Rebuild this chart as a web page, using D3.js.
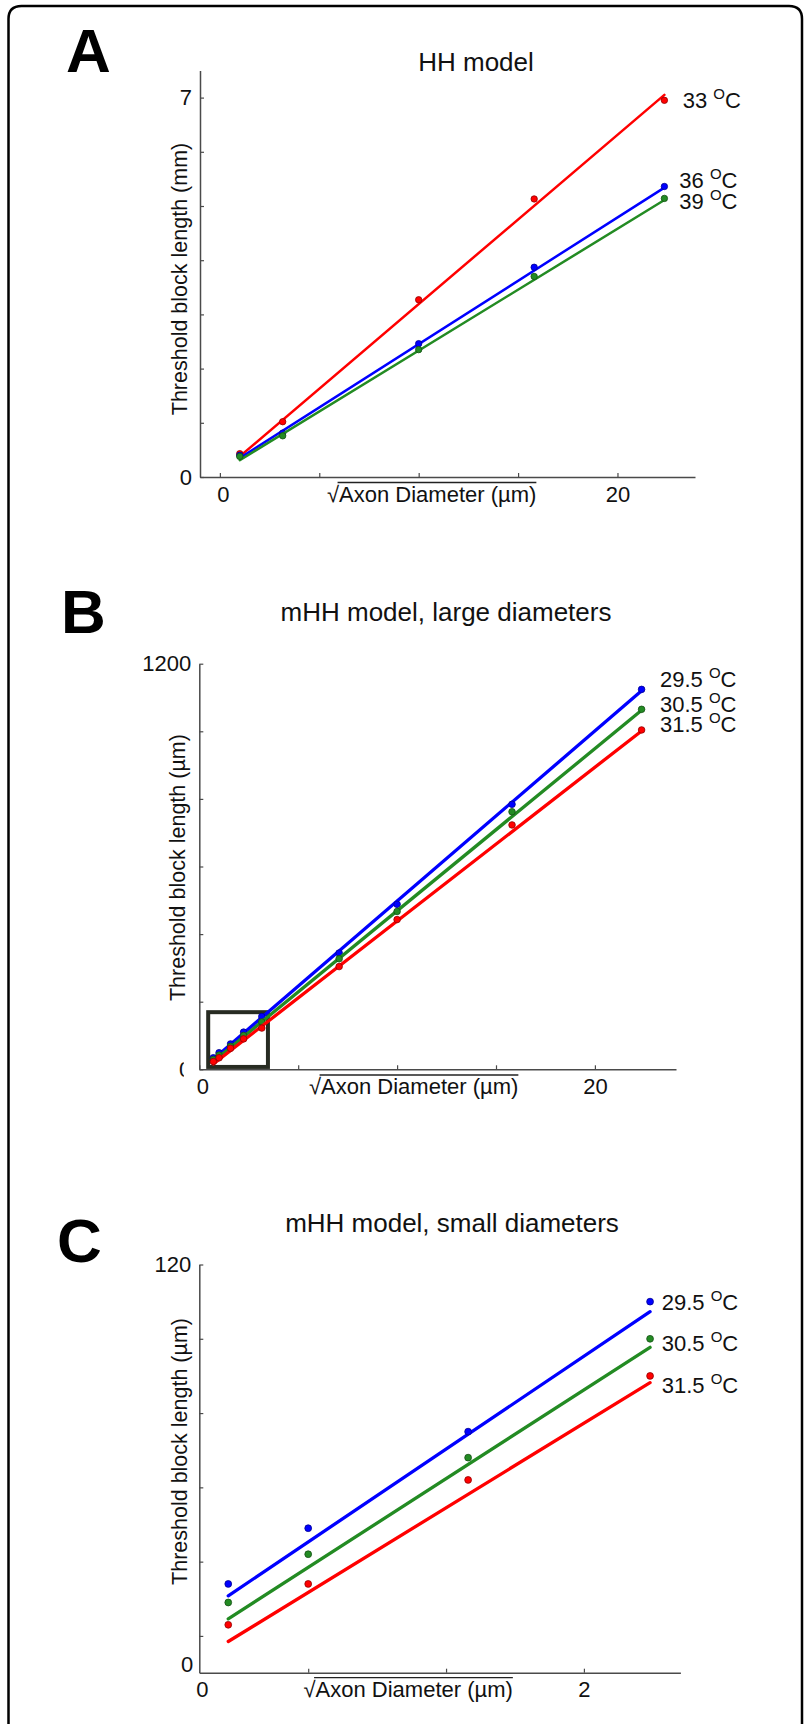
<!DOCTYPE html>
<html lang="en">
<head>
<meta charset="UTF-8">
<title>Threshold block length vs axon diameter</title>
<script src="https://cdn.jsdelivr.net/npm/d3@7"></script>
<style>
  body { margin: 0; background: #fff; }
  text { font-family: "Liberation Sans", Arial, Helvetica, sans-serif; }
</style>
</head>
<body>
<svg width="807" height="1724"></svg>
<script>
// ---- data ----
// A: HH model, x = sqrt(axon diameter)
const hhX = [1.0, 3.16, 10.0, 15.81, 22.36];
const hh33 = [0.43, 1.02, 3.27, 5.13, 6.95];
const hh36 = [0.40, 0.81, 2.46, 3.87, 5.36];
const hh39 = [0.38, 0.76, 2.35, 3.70, 5.14];
// fitted lines: value at first and last x
const hhFit33 = [0.38, 7.05];
const hhFit36 = [0.35, 5.34];
const hhFit39 = [0.31, 5.11];
const hhTemps = ["33", "36", "39"];

// B: mHH model, large diameters
const largeX = [0.71, 1.0, 1.58, 2.24, 3.16, 7.07, 10.0, 15.81, 22.36];
const large295 = [34, 49, 75, 110, 156, 344, 488, 784, 1124];
const large305 = [29, 42, 68, 100, 140, 327, 467, 762, 1065];
const large315 = [23, 34, 62, 90, 122, 304, 443, 723, 1004];
const largeFit295 = [30, 1120];
const largeFit305 = [23, 1062];
const largeFit315 = [16, 1001];
const zoomBoxX = [0.45, 3.47];
const zoomBoxY = [7, 169];

// C: mHH model, small diameters
const smallX = [0.71, 1.0, 1.58, 2.24];
const small295 = [34, 49, 75, 110];
const small305 = [29, 42, 68, 100];
const small315 = [23, 34, 62, 90];
const smallFit295 = [30.8, 107.3];
const smallFit305 = [24.6, 97.7];
const smallFit315 = [18.5, 88.2];
const mhhTemps = ["29.5", "30.5", "31.5"];

const RED = "#ff0000", BLUE = "#0000ff", GREEN = "#238b23";
const axisColor = "#4a4a4a";

const svg = d3.select("svg");

// frame round the whole figure (open at the bottom)
svg.append("path")
   .attr("d", "M8.5,1724 V19 Q8.5,6 21.5,6 H789 Q802,6 802,19 V1724")
   .attr("fill", "none")
   .attr("stroke", "#000")
   .attr("stroke-width", 2.5);

function drawPanel(p) {
    const g = svg.append("g");
    const x = d3.scaleLinear().domain(p.xDomain).range(p.xRange);
    const y = d3.scaleLinear().domain(p.yDomain).range(p.yRange);

    // panel letter and title
    g.append("text")
     .attr("x", p.letterPos[0]).attr("y", p.letterPos[1])
     .style("font-size", "62px").style("font-weight", "bold")
     .attr("fill", "#000")
     .text(p.letter);

    g.append("text")
     .attr("x", p.titlePos[0]).attr("y", p.titlePos[1])
     .attr("text-anchor", "middle")
     .style("font-size", "26px")
     .attr("fill", "#111")
     .text(p.title);

    // axes, ticks pointing inward
    const yAxis = d3.axisLeft(y)
        .tickValues(p.yTicks)
        .tickSize(-4).tickSizeOuter(0).tickPadding(8)
        .tickFormat(d => p.yLabels.includes(d) ? d : "");
    const yG = g.append("g")
        .attr("transform", `translate(${p.xRange[0]},0)`)
        .call(yAxis);

    const xAxis = d3.axisBottom(x)
        .tickValues(p.xTicks)
        .tickSize(-4).tickSizeOuter(0).tickPadding(9)
        .tickFormat(d => p.xLabels.includes(d) ? d : "");
    const xG = g.append("g")
        .attr("transform", `translate(0,${p.yRange[0]})`)
        .call(xAxis);

    [yG, xG].forEach(a => {
        a.attr("font-size", 22).attr("font-family", null).attr("color", axisColor);
        a.select(".domain").attr("stroke-width", 1.5);
        a.selectAll(".tick line").attr("stroke-width", 1.2);
        a.selectAll("text").attr("fill", "#111");
    });
    xG.selectAll(".tick text").filter(d => d === 0).attr("dx", 3);

    if (p.clipZero) {
        // the zero on this axis is half cut off in the original
        svg.append("clipPath").attr("id", "clipZeroB")
           .append("rect").attr("x", -40).attr("y", -20).attr("width", 24.5).attr("height", 40);
        yG.selectAll(".tick text").filter(d => d === 0).attr("clip-path", "url(#clipZeroB)");
    }

    // extra "0" labels that sit at the axis ends
    if (p.extraZeroY) {
        g.append("text")
         .attr("x", p.xRange[0] - 6).attr("y", p.yRange[0] - 1)
         .attr("text-anchor", "end").style("font-size", "22px").attr("fill", "#111")
         .text("0");
    }
    if (p.extraZeroX) {
        g.append("text")
         .attr("x", p.xRange[0] + 3).attr("y", p.yRange[0] + 24)
         .attr("text-anchor", "middle").style("font-size", "22px").attr("fill", "#111")
         .text("0");
    }

    // axis titles
    g.append("text")
     .attr("transform", `translate(${p.yLabelPos[0]},${p.yLabelPos[1]}) rotate(-90)`)
     .attr("text-anchor", "middle")
     .style("font-size", "21.5px")
     .attr("fill", "#111")
     .text(p.yLabel);

    const xl = g.append("text")
     .attr("x", p.xLabelPos[0]).attr("y", p.xLabelPos[1])
     .style("font-size", "22px")
     .attr("fill", "#111");
    xl.append("tspan").text("\u221A");
    xl.append("tspan").text("Axon Diameter (\u00B5m)");
    const node = xl.node();
    const full = node.getComputedTextLength();
    const rad = node.getSubStringLength(0, 1);
    g.append("line")
     .attr("x1", p.xLabelPos[0] + rad - 1.5).attr("x2", p.xLabelPos[0] + full)
     .attr("y1", p.xLabelPos[1] - 19).attr("y2", p.xLabelPos[1] - 19)
     .attr("stroke", "#222").attr("stroke-width", 1.3);

    // optional zoom box (panel B)
    if (p.box) {
        g.append("rect")
         .attr("x", x(p.box.x[0])).attr("y", y(p.box.y[1]))
         .attr("width", x(p.box.x[1]) - x(p.box.x[0]))
         .attr("height", y(p.box.y[0]) - y(p.box.y[1]))
         .attr("fill", "none")
         .attr("stroke", "#272b22")
         .attr("stroke-width", 4);
    }

    // fitted lines and simulated points
    p.series.forEach(s => {
        const n = p.xs.length - 1;
        g.append("line")
         .attr("x1", x(p.xs[0])).attr("y1", y(s.fit[0]))
         .attr("x2", x(p.xs[n])).attr("y2", y(s.fit[1]))
         .attr("stroke", s.color)
         .attr("stroke-width", p.lineWidth)
         .attr("stroke-linecap", "round");

        g.selectAll(null)
         .data(s.values)
         .enter()
         .append("circle")
         .attr("cx", (d, i) => x(p.xs[i]))
         .attr("cy", d => y(d))
         .attr("r", p.dotR)
         .attr("fill", s.color)
         .attr("stroke", d3.color(s.color).darker(1.6))
         .attr("stroke-width", 0.8);
    });

    // temperature labels with superscript degree
    p.temps.forEach((t, i) => {
        const tx = g.append("text")
         .attr("x", p.tempPos[i][0]).attr("y", p.tempPos[i][1])
         .style("font-size", "22px")
         .attr("fill", "#111");
        tx.append("tspan").text(t + " ");
        tx.append("tspan").attr("dy", -9).style("font-size", "15px").text("O");
        tx.append("tspan").attr("dy", 9).text("C");
    });
}

drawPanel({
    letter: "A", letterPos: [66, 72],
    title: "HH model", titlePos: [476, 71],
    xDomain: [-1.0, 23.9], xRange: [200, 695],
    yDomain: [0, 7.5], yRange: [477, 70.5],
    yTicks: [0, 1, 2, 3, 4, 5, 6, 7], yLabels: [0, 7],
    xTicks: [0, 5, 10, 15, 20], xLabels: [0, 20],
    yLabel: "Threshold block length (mm)", yLabelPos: [187, 279],
    xLabelPos: [327, 501.5],
    xs: hhX,
    series: [
        { values: hh33, fit: hhFit33, color: RED },
        { values: hh36, fit: hhFit36, color: BLUE },
        { values: hh39, fit: hhFit39, color: GREEN }
    ],
    lineWidth: 2.5, dotR: 3.2,
    temps: hhTemps,
    tempPos: [[682.7, 108.3], [679.3, 188.3], [679.3, 209.3]]
});

drawPanel({
    letter: "B", letterPos: [61, 633],
    title: "mHH model, large diameters", titlePos: [446, 621],
    xDomain: [0, 24.1], xRange: [199.3, 676],
    yDomain: [0, 1200], yRange: [1069.3, 663.7],
    yTicks: [0, 200, 400, 600, 800, 1000, 1200], yLabels: [0, 1200],
    xTicks: [0, 5, 10, 15, 20], xLabels: [0, 20],
    clipZero: true,
    yLabel: "Threshold block length (\u00B5m)", yLabelPos: [184.5, 867.6],
    xLabelPos: [309, 1094],
    xs: largeX,
    box: { x: zoomBoxX, y: zoomBoxY },
    series: [
        { values: large295, fit: largeFit295, color: BLUE },
        { values: large305, fit: largeFit305, color: GREEN },
        { values: large315, fit: largeFit315, color: RED }
    ],
    lineWidth: 3.3, dotR: 3.3,
    temps: mhhTemps,
    tempPos: [[660, 687.3], [660, 711.7], [660, 731.7]]
});

drawPanel({
    letter: "C", letterPos: [57, 1262],
    title: "mHH model, small diameters", titlePos: [452, 1232],
    xDomain: [0.605, 2.35], xRange: [199.3, 680.4],
    yDomain: [10.1, 120], yRange: [1672.7, 1264.5],
    yTicks: [20, 40, 60, 80, 100, 120], yLabels: [120],
    xTicks: [1, 1.5, 2], xLabels: [2],
    extraZeroY: true, extraZeroX: true,
    yLabel: "Threshold block length (\u00B5m)", yLabelPos: [187, 1451.5],
    xLabelPos: [303.5, 1696.7],
    xs: smallX,
    series: [
        { values: small295, fit: smallFit295, color: BLUE },
        { values: small305, fit: smallFit305, color: GREEN },
        { values: small315, fit: smallFit315, color: RED }
    ],
    lineWidth: 3.3, dotR: 3.4,
    temps: mhhTemps,
    tempPos: [[661.7, 1310], [661.7, 1350.7], [661.7, 1393.3]]
});
</script>
</body>
</html>
